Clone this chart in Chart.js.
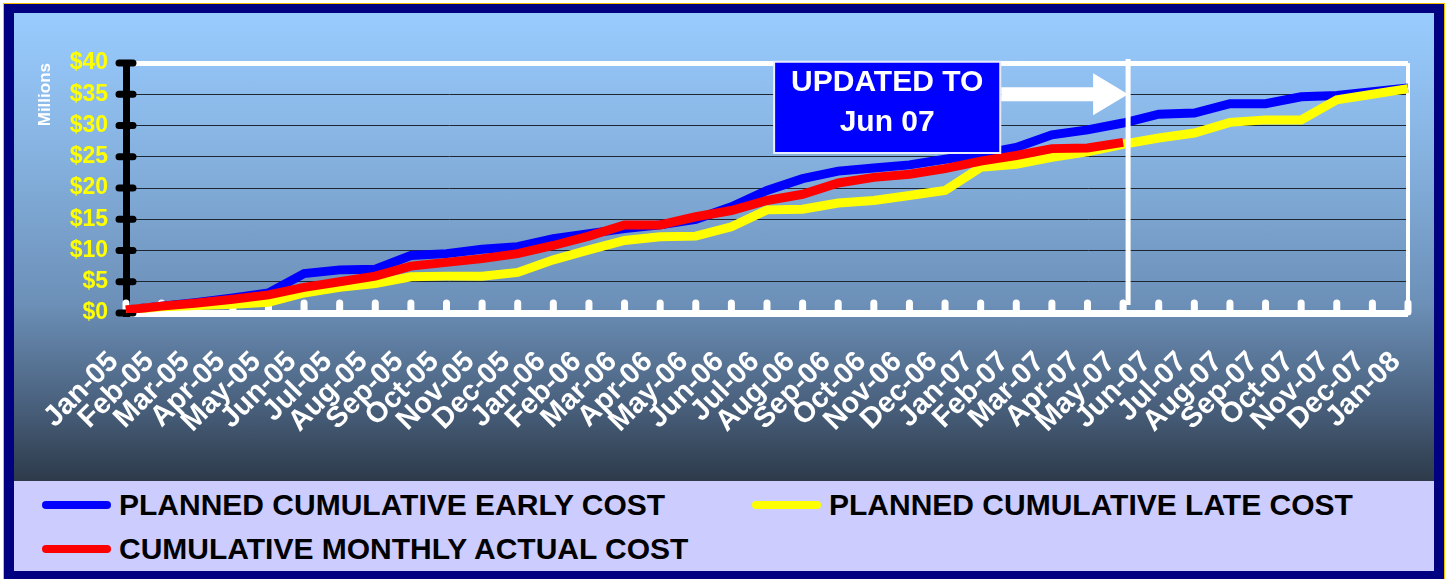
<!DOCTYPE html>
<html>
<head>
<meta charset="utf-8">
<title>Cumulative Cost</title>
<script src="https://cdn.jsdelivr.net/npm/chart.js@4.4.0/dist/chart.umd.min.js"></script>
<style>
  html, body { margin: 0; padding: 0; background: #fff; }
  body { width: 1447px; height: 579px; position: relative; overflow: hidden; font-family: 'Liberation Sans', Arial, sans-serif; }
  .frame { position: absolute; left: 3px; top: 3px; width: 1442px; height: 580px; box-sizing: border-box; background: #000080; border: 1px solid #F5C000; }
  .plot-bg { position: absolute; left: 14px; top: 13px; width: 1420px; height: 468px;
    background: linear-gradient(to bottom, #99CCFF 0%, #86B2E0 30%, #6C90B8 62%, #4C6482 82%, #2D3A4A 100%); }
  #costChart { position: absolute; left: 14px; top: 13px; }
  .legend { position: absolute; left: 14px; top: 481px; width: 1420px; height: 90px; background: #CCCCFF; }
  .item { position: absolute; display: flex; align-items: center; font-weight: bold; font-size: 30px; color: #000; white-space: nowrap; transform: translateY(-50%); }
  .swatch { width: 69px; height: 8px; border-radius: 4px; margin-right: 8px; }
</style>
</head>
<body>
<div class="frame"></div>
<div class="plot-bg"></div>
<canvas id="costChart" width="1420" height="468"></canvas>
<div class="legend" id="legend"></div>

<script>
// data (millions of dollars)
const months = ['Jan-05', 'Feb-05', 'Mar-05', 'Apr-05', 'May-05', 'Jun-05', 'Jul-05', 'Aug-05', 'Sep-05', 'Oct-05', 'Nov-05', 'Dec-05',
  'Jan-06', 'Feb-06', 'Mar-06', 'Apr-06', 'May-06', 'Jun-06', 'Jul-06', 'Aug-06', 'Sep-06', 'Oct-06', 'Nov-06', 'Dec-06',
  'Jan-07', 'Feb-07', 'Mar-07', 'Apr-07', 'May-07', 'Jun-07', 'Jul-07', 'Aug-07', 'Sep-07', 'Oct-07', 'Nov-07', 'Dec-07', 'Jan-08'];

const earlyCost = [0.5, 1.1, 1.7, 2.4, 3.2, 6.3, 6.9, 7.0, 9.2, 9.5, 10.2, 10.6, 11.9, 12.7, 13.5, 14.1, 15.0, 17.0, 19.6, 21.5, 22.7, 23.2, 23.7, 24.6,
  25.4, 26.5, 28.5, 29.3, 30.4, 31.8, 32.0, 33.5, 33.5, 34.6, 34.8, 35.4, 36.0];
const lateCost = [0.5, 1.0, 1.2, 1.4, 1.7, 3.2, 4.1, 4.7, 5.8, 5.9, 5.9, 6.5, 8.5, 10.1, 11.6, 12.2, 12.3, 13.8, 16.5, 16.6, 17.6, 18.0, 18.8, 19.6,
  23.3, 23.8, 24.9, 25.8, 27.0, 28.0, 28.8, 30.5, 30.9, 30.9, 34.1, 35.0, 35.9];
const actualCost = [0.5, 1.1, 1.6, 2.2, 2.9, 4.1, 5.0, 5.9, 7.5, 8.1, 8.7, 9.5, 10.8, 12.3, 14.1, 14.1, 15.4, 16.4, 18.0, 19.0, 20.8, 21.7, 22.2, 23.1,
  24.3, 25.2, 26.3, 26.4, 27.3];

const yTicks = [0, 5, 10, 15, 20, 25, 30, 35, 40];
const seriesNames = ['PLANNED CUMULATIVE EARLY COST', 'PLANNED CUMULATIVE LATE COST', 'CUMULATIVE MONTHLY ACTUAL COST'];
const seriesColors = ['#0000FF', '#FFFF00', '#FF0000'];
const updatedIndex = 28;
const updatedText = ['UPDATED TO', 'Jun 07'];

const FONT = "'Liberation Sans', Arial, sans-serif";

// axes, tick marks, "updated to" line, box and arrow
const decorPlugin = {
  id: 'decor',
  beforeDatasetsDraw(chart) {
    const { ctx, chartArea, scales: { x, y } } = chart;
    ctx.save();
    // right edge of plot
    ctx.strokeStyle = '#fff';
    ctx.lineWidth = 4;
    ctx.beginPath();
    ctx.moveTo(chartArea.right, chartArea.top);
    ctx.lineTo(chartArea.right, chartArea.bottom);
    ctx.stroke();
    // white category ticks pointing up
    ctx.lineCap = 'round';
    ctx.lineWidth = 7;
    ctx.beginPath();
    months.forEach((m, i) => {
      const px = x.getPixelForValue(i);
      ctx.moveTo(px, chartArea.bottom - 1);
      ctx.lineTo(px, chartArea.bottom - 10);
    });
    ctx.stroke();
    // black value ticks across the axis
    ctx.strokeStyle = '#000';
    ctx.beginPath();
    yTicks.forEach(v => {
      const py = y.getPixelForValue(v);
      ctx.moveTo(chartArea.left - 7, py);
      ctx.lineTo(chartArea.left + 7, py);
    });
    ctx.stroke();
    ctx.restore();
  },
  afterDatasetsDraw(chart) {
    const { ctx, chartArea, scales: { x, y } } = chart;
    ctx.save();
    const lineX = x.getPixelForValue(updatedIndex) + 5;
    ctx.strokeStyle = '#fff';
    ctx.lineWidth = 5;
    ctx.beginPath();
    ctx.moveTo(lineX, y.getPixelForValue(40.65));
    ctx.lineTo(lineX, chartArea.bottom - 8);
    ctx.stroke();

    // text box
    const bx1 = x.getPixelForValue(18.2), bx2 = x.getPixelForValue(24.55);
    const by1 = y.getPixelForValue(40.2), by2 = y.getPixelForValue(25.6);
    ctx.fillStyle = '#0000FF';
    ctx.fillRect(bx1, by1, bx2 - bx1, by2 - by1);
    ctx.strokeStyle = '#E8ECFF';
    ctx.lineWidth = 2;
    ctx.strokeRect(bx1, by1, bx2 - bx1, by2 - by1);
    ctx.fillStyle = '#fff';
    ctx.font = 'bold 30px ' + FONT;
    ctx.textAlign = 'center';
    ctx.textBaseline = 'middle';
    ctx.fillText(updatedText[0], (bx1 + bx2) / 2, y.getPixelForValue(36.9));
    ctx.fillText(updatedText[1], (bx1 + bx2) / 2, y.getPixelForValue(30.4));

    // arrow
    const ay = y.getPixelForValue(35);
    const headX = lineX - 35;
    ctx.beginPath();
    ctx.moveTo(bx2 + 1, ay - 7);
    ctx.lineTo(headX, ay - 7);
    ctx.lineTo(headX, ay - 21);
    ctx.lineTo(lineX, ay);
    ctx.lineTo(headX, ay + 21);
    ctx.lineTo(headX, ay + 7);
    ctx.lineTo(bx2 + 1, ay + 7);
    ctx.closePath();
    ctx.fill();
    ctx.restore();
  }
};

const lineStyle = { borderWidth: 9, pointRadius: 0, pointHoverRadius: 0, fill: false, tension: 0 };

new Chart(document.getElementById('costChart'), {
  type: 'line',
  data: {
    labels: months,
    datasets: [
      { label: seriesNames[0], data: earlyCost, borderColor: seriesColors[0], backgroundColor: seriesColors[0], order: 3, ...lineStyle },
      { label: seriesNames[1], data: lateCost, borderColor: seriesColors[1], backgroundColor: seriesColors[1], order: 2, ...lineStyle },
      { label: seriesNames[2], data: actualCost, borderColor: seriesColors[2], backgroundColor: seriesColors[2], order: 1, ...lineStyle }
    ]
  },
  options: {
    responsive: false,
    animation: false,
    layout: { padding: { left: 0, top: 50, right: 26, bottom: 0 } },
    plugins: {
      legend: { display: false },
      tooltip: { enabled: false }
    },
    scales: {
      x: {
        type: 'category',
        offset: false,
        grid: { display: false },
        border: { display: false },
        ticks: {
          autoSkip: false,
          minRotation: 45,
          maxRotation: 45,
          padding: 24,
          labelOffset: -12,
          color: '#fff',
          font: { family: FONT, size: 29, weight: 'bold' }
        },
        afterFit(scale) {
          scale.height = 168;
          scale.paddingLeft = 0;
          scale.paddingRight = 0;
        }
      },
      y: {
        min: 0,
        max: 40,
        afterBuildTicks(scale) { scale.ticks = yTicks.map(v => ({ value: v })); },
        grid: {
          drawTicks: false,
          color: c => (c.tick && (c.tick.value === 40 || c.tick.value === 0)) ? '#fff' : '#1e2633',
          lineWidth: c => c.tick && c.tick.value === 40 ? 5 : (c.tick && c.tick.value === 0 ? 7 : 1)
        },
        border: { color: '#000', width: 7 },
        ticks: {
          padding: 18,
          color: '#FFFF00',
          font: { family: FONT, size: 23, weight: 'bold' },
          callback: v => '$' + v
        },
        title: {
          display: true,
          text: 'Millions',
          align: 'end',
          color: '#fff',
          font: { family: FONT, size: 17, weight: 'bold' },
          padding: { top: 21, bottom: 0 }
        },
        afterFit(scale) { scale.width = 112; }
      }
    }
  },
  plugins: [decorPlugin]
});

// legend laid out like the original: two columns, second row underneath
const legendPos = [[28, 24], [738, 24], [28, 68]];
const legendBox = document.getElementById('legend');
seriesNames.forEach((name, i) => {
  const item = document.createElement('div');
  item.className = 'item';
  item.style.left = legendPos[i][0] + 'px';
  item.style.top = legendPos[i][1] + 'px';
  item.innerHTML = '<span class="swatch" style="background:' + seriesColors[i] + '"></span><span>' + name + '</span>';
  legendBox.appendChild(item);
});
</script>
</body>
</html>
